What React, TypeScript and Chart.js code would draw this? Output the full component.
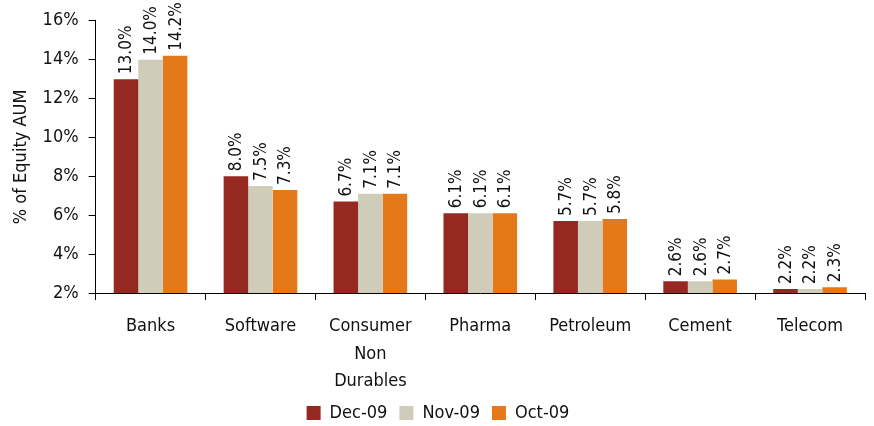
import React, { useEffect, useRef } from "react";
import { Chart, registerables } from "chart.js";

Chart.register(...registerables);

const categories: (string | string[])[] = [
  "Banks",
  "Software",
  ["Consumer", "Non", "Durables"],
  "Pharma",
  "Petroleum",
  "Cement",
  "Telecom",
];
const dec09 = [13.0, 8.0, 6.7, 6.1, 5.7, 2.6, 2.2];
const nov09 = [14.0, 7.5, 7.1, 6.1, 5.7, 2.6, 2.2];
const oct09 = [14.2, 7.3, 7.1, 6.1, 5.8, 2.7, 2.3];
const seriesNames = ["Dec-09", "Nov-09", "Oct-09"];
const yTicks = [2, 4, 6, 8, 10, 12, 14, 16];

const FONT = "'DejaVu Sans Condensed', 'Roboto', sans-serif";

const labelPlugin = {
  id: "barValueLabels",
  afterDatasetsDraw(chart: any) {
    const ctx = chart.ctx;
    ctx.save();
    ctx.font = `17px ${FONT}`;
    ctx.fillStyle = "#111";
    chart.data.datasets.forEach((ds: any, di: number) => {
      const meta = chart.getDatasetMeta(di);
      meta.data.forEach((bar: any, i: number) => {
        const v = ds.data[i];
        ctx.save();
        ctx.translate(bar.x, bar.y - 5);
        ctx.rotate(-Math.PI / 2);
        ctx.textAlign = "left";
        ctx.textBaseline = "middle";
        ctx.fillText(v.toFixed(1) + "%", 0, 1);
        ctx.restore();
      });
    });
    ctx.restore();
  },
};

export default function App() {
  const ref = useRef<HTMLCanvasElement>(null);
  useEffect(() => {
    document.body.style.margin = "0";
    const chart = new Chart(ref.current!, {
      type: "bar",
      data: {
        labels: categories,
        datasets: [
          { label: seriesNames[0], data: dec09, backgroundColor: "#962822" },
          { label: seriesNames[1], data: nov09, backgroundColor: "#CFCDBA" },
          { label: seriesNames[2], data: oct09, backgroundColor: "#E57818" },
        ],
      },
      options: {
        animation: false,
        responsive: false,
        maintainAspectRatio: false,
        layout: { padding: { top: 8, right: 9, left: 11, bottom: -6 } },
        datasets: { bar: { categoryPercentage: 0.67, barPercentage: 1 } },
        plugins: {
          legend: {
            position: "bottom",
            labels: {
              font: { family: FONT, size: 18 },
              color: "#111",
              boxWidth: 14,
              boxHeight: 14,
              padding: 12,
            },
          },
          tooltip: { enabled: false },
        },
        scales: {
          x: {
            afterFit: (scale: any) => {
              scale.height = 99;
            },
            grid: {
              offset: true,
              drawOnChartArea: false,
              drawTicks: true,
              tickLength: 7,
              color: "#000",
            },
            border: { display: true, color: "#000", width: 1 },
            ticks: {
              font: { family: FONT, size: 18, lineHeight: 1.55 },
              color: "#111",
              padding: 12,
              maxRotation: 0,
              autoSkip: false,
            },
          },
          y: {
            min: 2,
            max: 16,
            afterBuildTicks: (axis: any) => {
              axis.ticks = yTicks.map((v) => ({ value: v }));
            },
            grid: {
              drawOnChartArea: false,
              drawTicks: true,
              tickLength: 7,
              color: "#000",
            },
            border: { display: true, color: "#000", width: 1 },
            ticks: {
              font: { family: FONT, size: 18 },
              color: "#111",
              padding: 10,
              callback: (v: any) => v + "%",
            },
            title: {
              display: true,
              text: "% of Equity AUM",
              font: { family: FONT, size: 18 },
              color: "#111",
              padding: { top: 0, bottom: 0 },
            },
          },
        },
      },
      plugins: [labelPlugin],
    });
    return () => chart.destroy();
  }, []);
  return (
    <div style={{ width: 874, height: 426 }}>
      <canvas ref={ref} width={874} height={426} />
    </div>
  );
}
